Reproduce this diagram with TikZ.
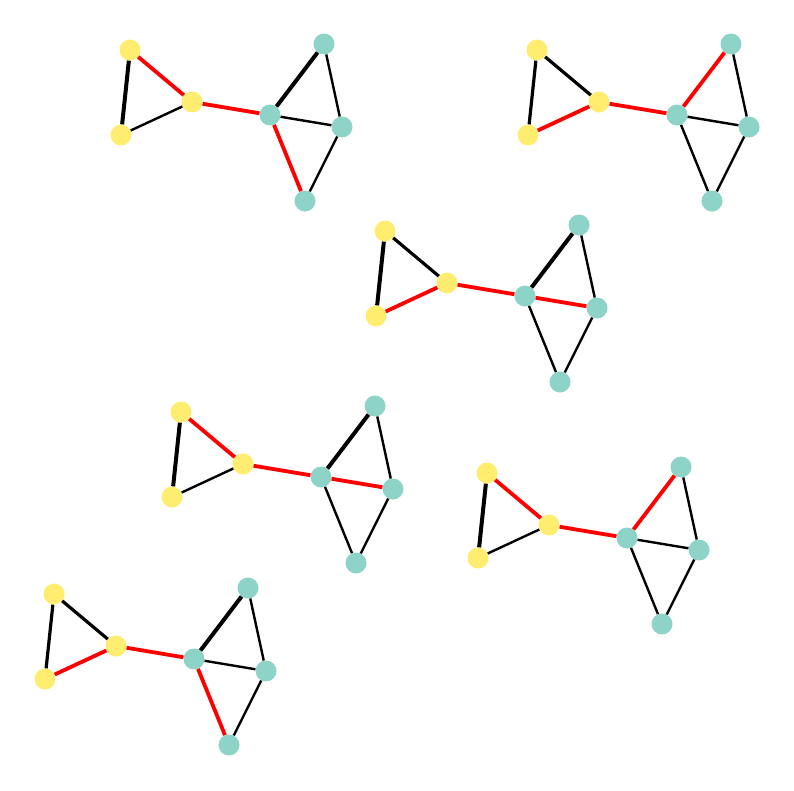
\documentclass[tikz,border=0pt]{standalone}
\definecolor{ylw}{HTML}{FFED6F}
\definecolor{teal2}{HTML}{8DD3C7}
\tikzset{
  thinE/.style={draw=black,line width=2.4pt},
  midE/.style={draw=black,line width=3.2pt},
  thickE/.style={draw=black,line width=4pt},
  redE/.style={draw=red,line width=3.8pt},
  yv/.style={circle,fill=ylw,draw=none,minimum size=21pt,inner sep=0pt},
  tv/.style={circle,fill=teal2,draw=none,minimum size=21pt,inner sep=0pt},
  eyy/.style={thinE},eya/.style={thinE},eyb/.style={thinE},ebr/.style={thinE},
  ect/.style={thinE},etr/.style={thinE},ecr/.style={thinE},ecb/.style={thinE},erb/.style={thinE}
}
\newcommand\gcopy[4]{%
\begin{scope}[shift={(#1,#2)}]
\tikzset{#4}
\node[yv] (#3y1) at (130,50) {};
\node[yv] (#3y2) at (121,135) {};
\node[yv] (#3yc) at (192,102) {};
\node[tv] (#3tc) at (270,115) {};
\node[tv] (#3tt) at (324,44) {};
\node[tv] (#3tr) at (342,127) {};
\node[tv] (#3tb) at (305,201) {};
\draw[eyy] (#3y1) -- (#3y2);
\draw[eya] (#3y1) -- (#3yc);
\draw[eyb] (#3y2) -- (#3yc);
\draw[ebr] (#3yc) -- (#3tc);
\draw[ect] (#3tc) -- (#3tt);
\draw[etr] (#3tt) -- (#3tr);
\draw[ecr] (#3tc) -- (#3tr);
\draw[ecb] (#3tc) -- (#3tb);
\draw[erb] (#3tr) -- (#3tb);
\end{scope}}
\begin{document}
\begin{tikzpicture}[x=1pt,y=-1pt]
\useasboundingbox (0,0) rectangle (794,790);
\gcopy{0}{0}{a}{eyy/.style={thickE},eya/.style={redE},ebr/.style={redE},ect/.style={thickE},ecb/.style={redE}}
\gcopy{407}{0}{b}{eyy/.style={midE},eya/.style={midE},eyb/.style={redE},ebr/.style={redE},ect/.style={redE}}
\gcopy{255}{181}{c}{eyy/.style={thickE},eya/.style={midE},eyb/.style={redE},ebr/.style={redE},ect/.style={thickE},ecr/.style={redE}}
\gcopy{51}{362}{d}{eyy/.style={thickE},eya/.style={redE},ebr/.style={redE},ect/.style={thickE},ecr/.style={redE}}
\gcopy{357}{423}{e}{eyy/.style={thickE},eya/.style={redE},ebr/.style={redE},ect/.style={redE}}
\gcopy{-76}{544}{f}{eyy/.style={midE},eya/.style={midE},eyb/.style={redE},ebr/.style={redE},ect/.style={thickE},ecb/.style={redE}}
\end{tikzpicture}
\end{document}
